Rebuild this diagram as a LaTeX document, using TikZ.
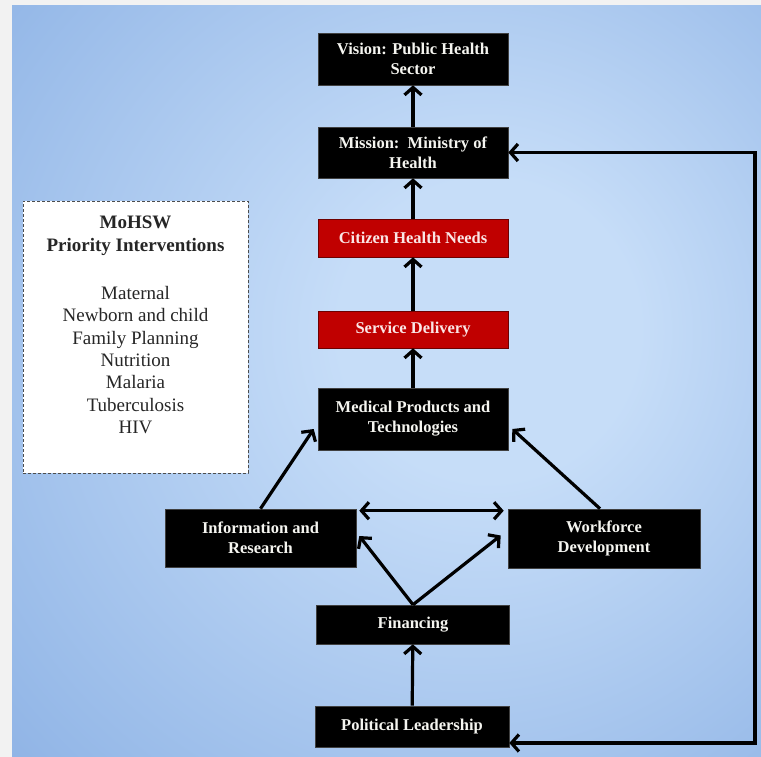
\documentclass[tikz,border=0pt]{standalone}
\usepackage{fontspec}
\setmainfont{Liberation Serif}
\usetikzlibrary{arrows.meta,calc}
\definecolor{bgout}{RGB}{242,242,242}
\definecolor{bglight}{RGB}{198,221,248}
\definecolor{bgmid}{RGB}{150,185,232}
\definecolor{bgdark}{RGB}{92,132,205}
\definecolor{boxred}{RGB}{192,0,0}
\definecolor{boxredline}{RGB}{110,0,0}
\pgfdeclareradialshading{bgshade}{\pgfpoint{8bp}{4bp}}{color(0bp)=(bglight); color(10bp)=(bglight); color(36bp)=(bgmid); color(70bp)=(bgdark)}
\begin{document}
\begin{tikzpicture}[x=1pt,y=-1pt,
  blackbox/.style={fill=black, draw=black!75, line width=0.6pt, text={rgb,255:red,245;green,245;blue,240}, align=center,
    inner sep=0pt, font=\fontsize{16.5}{20}\selectfont\bfseries},
  redbox/.style={blackbox, fill=boxred, draw=boxredline, text={rgb,255:red,250;green,230;blue,230}},
  conn/.style={line width=3.2pt, -{Straight Barb[length=7.5pt,width=17pt]}},
  conn2/.style={line width=3.2pt, {Straight Barb[length=7.5pt,width=17pt]}-{Straight Barb[length=7.5pt,width=17pt]}}
]
\useasboundingbox (0,0) rectangle (761,757);
\fill[bgout] (0,0) rectangle (761,757);
\shade[shading=bgshade] (12,6) rectangle (761,757);

% nodes
\node[blackbox, minimum width=190pt, minimum height=52pt] (vision) at (413,59) {Vision: Public Health\\Sector};
\node[blackbox, minimum width=190pt, minimum height=51pt] (mission) at (413,152.5) {Mission:\ \ Ministry of\\Health};
\node[redbox, minimum width=190pt, minimum height=38pt] (citizen) at (413,238) {Citizen Health Needs};
\node[redbox, minimum width=190pt, minimum height=37pt] (service) at (413,329.5) {Service Delivery};
\node[blackbox, minimum width=190pt, minimum height=62pt] (med) at (413,419) {Medical Products and\\Technologies};
\node[blackbox, minimum width=191pt, minimum height=58pt] (info) at (260.5,538) {Information and\\Research};
\node[blackbox, minimum width=192pt, minimum height=59pt] (work) at (604,538.5) {Workforce\\Development};
\node[blackbox, minimum width=193pt, minimum height=39pt] (fin) at (413,624.5) {Financing};
\node[blackbox, minimum width=194pt, minimum height=41pt] (pol) at (412,726.5) {Political Leadership};

\node[fill=white, draw=black!70, densely dashed, line width=0.8pt,
  minimum width=225pt, minimum height=272pt, inner sep=0pt] (moh) at (135.5,337) {};
\node[align=center, inner sep=0pt, font=\fontsize{19}{22.3}\selectfont, text=black!85] (mohtext) at ($(moh.center)+(0,-12)$)
  {\textbf{MoHSW}\\\textbf{Priority Interventions}\\[26pt]Maternal\\Newborn and child\\Family Planning\\Nutrition\\Malaria\\Tuberculosis\\HIV};

% connectors
\draw[conn] (mission) -- (vision);
\draw[conn] (citizen) -- (mission);
\draw[conn] (service) -- (citizen);
\draw[conn] (med) -- (service);
\draw[conn] (pol) -- (fin);
\draw[conn] (info.north) -- ($(med.west)+(-4,10)$);
\draw[conn] ($(work.north)+(-4,0)$) -- ($(med.east)+(4,10)$);
\draw[conn2] ($(info.north east)+(3,2)$) -- ($(work.north west)+(-4,2)$);
\draw[conn] (fin.north) -- ($(info.east)+(3,-2)$);
\draw[conn] (fin.north) -- ($(work.west)+(-7,-3)$);

\coordinate (fbtop) at (755,152.5);
\coordinate (fbbot) at (755,743);
\draw[line width=3.2pt, line join=miter, {Straight Barb[length=7.5pt,width=17pt]}-{Straight Barb[length=7.5pt,width=17pt]}]
  (mission.east) -- (fbtop) -- (fbbot) -- (pol.east |- fbbot);
\end{tikzpicture}
\end{document}
